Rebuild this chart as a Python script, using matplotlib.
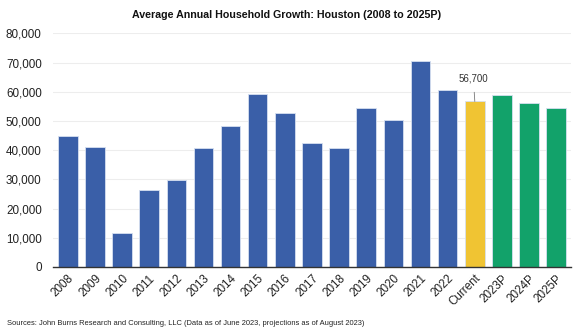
import matplotlib
matplotlib.use("Agg")
import matplotlib.pyplot as plt
from matplotlib.ticker import FuncFormatter

categories = ["2008", "2009", "2010", "2011", "2012", "2013", "2014", "2015", "2016",
              "2017", "2018", "2019", "2020", "2021", "2022", "Current", "2023P", "2024P", "2025P"]
values = [44800, 41100, 11700, 26200, 29900, 40900, 48300, 59100, 52900,
          42500, 40900, 54400, 50500, 70400, 60500, 56700, 59000, 56200, 54400]
kinds = ["hist"] * 15 + ["current"] + ["proj"] * 3
yticks = [0, 10000, 20000, 30000, 40000, 50000, 60000, 70000, 80000]
title = "Average Annual Household Growth: Houston (2008 to 2025P)"
source = "Sources: John Burns Research and Consulting, LLC (Data as of June 2023, projections as of August 2023)"
annot_label = "56,700"

colors = {"hist": "#3A5FA8", "current": "#F0C433", "proj": "#12A26A"}

plt.rcParams["font.family"] = ["Liberation Sans", "DejaVu Sans"]
fig = plt.figure(figsize=(5.74, 3.34), dpi=100)
ax = fig.add_axes([0.092, 0.2006, 0.903, 0.6994])

x = list(range(len(categories)))
ax.bar(x, values, width=0.72, color=[colors[k] for k in kinds],
       edgecolor="#D6E0F0", linewidth=0.6, zorder=3)

ax.set_ylim(0, 80000)
ax.set_xlim(-0.55, len(categories) - 0.45)
ax.set_yticks(yticks)
ax.yaxis.set_major_formatter(FuncFormatter(lambda v, p: f"{int(v):,}"))
ax.grid(axis="y", color="#EDEDED", linewidth=0.8, zorder=0)
ax.set_xticks(x)
ax.set_xticklabels(categories, rotation=45, ha="right", rotation_mode="anchor")
ax.tick_params(axis="both", length=0, labelsize=8.4, colors="#222222")
ax.tick_params(axis="x", pad=4)
ax.tick_params(axis="y", pad=8)
for s in ["top", "right", "left"]:
    ax.spines[s].set_visible(False)
ax.spines["bottom"].set_color("#333333")
ax.spines["bottom"].set_linewidth(1.0)
ax.spines["bottom"].set_zorder(4)

ci = categories.index("Current")
ax.annotate(annot_label, xy=(ci, values[ci]), xytext=(ci - 0.05, values[ci] + 7700),
            ha="center", va="center", fontsize=7, color="#333333",
            arrowprops=dict(arrowstyle="-", color="#777777", lw=0.6, shrinkA=4, shrinkB=0))

fig.text(0.5, 0.955, title, ha="center", va="center", fontsize=7.7, fontweight="bold", color="#111111")
fig.text(0.012, 0.03, source, ha="left", va="center", fontsize=5.4, color="#222222")

fig.savefig("out.png", dpi=100)
